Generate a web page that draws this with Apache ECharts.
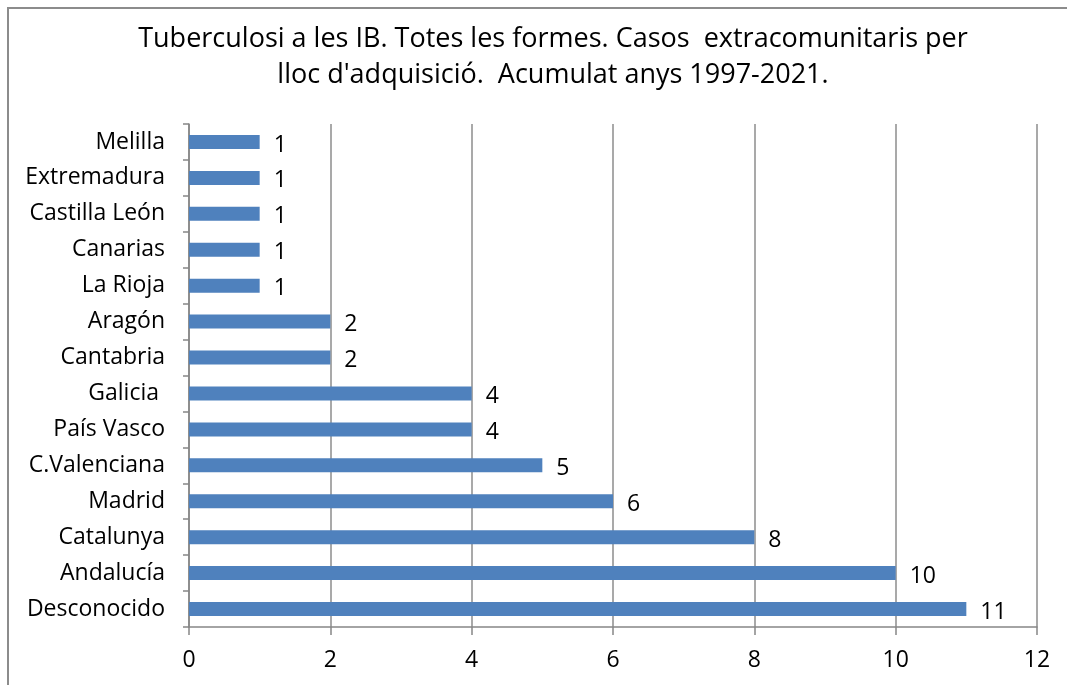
<!DOCTYPE html>
<html>
<head>
<meta charset="utf-8">
<script src="https://cdn.jsdelivr.net/npm/echarts@6/dist/echarts.min.js"></script>
<style>
  html, body { margin: 0; padding: 0; background: #fff; }
  #chart { width: 1067px; height: 685px; }
</style>
</head>
<body>
<div id="chart"></div>
<script>
'use strict';

const regions = ['Desconocido', 'Andalucía', 'Catalunya', 'Madrid', 'C.Valenciana', 'País Vasco', 'Galicia ',
    'Cantabria', 'Aragón', 'La Rioja', 'Canarias', 'Castilla León', 'Extremadura', 'Melilla'];
const cases = [11, 10, 8, 6, 5, 4, 4, 2, 2, 1, 1, 1, 1, 1];
const titleLines = ['Tuberculosi a les IB. Totes les formes. Casos  extracomunitaris per',
    'lloc d\'adquisició.  Acumulat anys 1997-2021.'];

(function () {
    const font = '"Open Sans", sans-serif';
    const chart = echarts.init(document.getElementById('chart'));
    chart.setOption({
        animation: false,
        textStyle: { fontFamily: font, color: '#000' },
        title: {
            text: titleLines.join('\n'),
            left: 548,
            top: 16,
            textAlign: 'center',
            textStyle: { fontFamily: font, fontSize: 27, fontWeight: 'normal', color: '#000', lineHeight: 36 }
        },
        graphic: [{
            type: 'rect',
            shape: { x: 8, y: 8, width: 1100, height: 720 },
            style: { fill: null, stroke: '#8c8c8c', lineWidth: 2 },
            silent: true
        }],
        grid: { left: 189, right: 30, top: 124, bottom: 58 },
        xAxis: {
            type: 'value',
            min: 0,
            max: 12,
            interval: 2,
            axisLine: { show: true, lineStyle: { color: '#868686', width: 1.5 } },
            axisTick: { show: true, length: 8, lineStyle: { color: '#868686', width: 1.5 } },
            axisLabel: { fontSize: 23, color: '#000', margin: 22, fontFamily: font },
            splitLine: { show: true, lineStyle: { color: '#8c8c8c', width: 1.5 } }
        },
        yAxis: {
            type: 'category',
            data: regions,
            axisLine: { show: true, lineStyle: { color: '#868686', width: 1.5 } },
            axisTick: { show: true, length: 6, lineStyle: { color: '#868686', width: 1.5 } },
            axisLabel: { fontSize: 23, color: '#000', margin: 24, fontFamily: font, padding: [4, 0, 0, 0] }
        },
        series: [{
            type: 'bar',
            data: cases,
            barWidth: 14,
            itemStyle: { color: '#4f81bd' },
            label: {
                show: true,
                position: 'right',
                distance: 14,
                fontSize: 23,
                color: '#000',
                fontFamily: font,
                offset: [0, 3]
            }
        }]
    });
})();
</script>
</body>
</html>
